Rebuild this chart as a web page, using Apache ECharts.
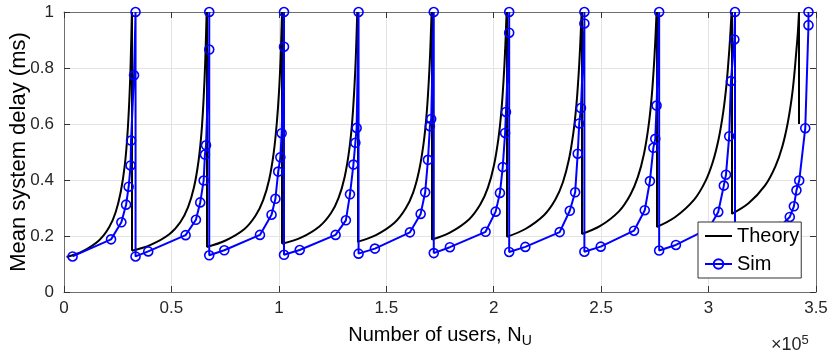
<!DOCTYPE html>
<html>
<head>
<meta charset="utf-8">
<script src="https://cdn.jsdelivr.net/npm/echarts@6/dist/echarts.min.js"></script>
<style>
  html, body { margin: 0; padding: 0; background: #fff; }
  #chart { width: 830px; height: 361px; }
</style>
</head>
<body>
<div id="chart"></div>
<script>
// x values are in units of 1e5 users, delay in ms
const theoryN = [
  0.012, 0.088, 0.164, 0.210, 0.240, 0.264, 0.283, 0.295, 0.304, 0.310, 0.316,
  0.316, 0.403, 0.490, 0.542, 0.577, 0.605, 0.626, 0.640, 0.650, 0.657, 0.664,
  0.664, 0.752, 0.840, 0.892, 0.927, 0.955, 0.976, 0.990, 1.001, 1.008, 1.015,
  1.015, 1.103, 1.190, 1.243, 1.278, 1.306, 1.327, 1.341, 1.351, 1.358, 1.365,
  1.365, 1.452, 1.538, 1.590, 1.625, 1.652, 1.673, 1.687, 1.697, 1.704, 1.711,
  1.711, 1.798, 1.886, 1.938, 1.973, 2.001, 2.022, 2.036, 2.046, 2.053, 2.060,
  2.060, 2.147, 2.235, 2.287, 2.322, 2.350, 2.371, 2.385, 2.395, 2.402, 2.409,
  2.409, 2.496, 2.584, 2.636, 2.671, 2.699, 2.720, 2.734, 2.744, 2.751, 2.758,
  2.758, 2.845, 2.933, 2.985, 3.020, 3.048, 3.069, 3.083, 3.093, 3.100, 3.107,
  3.107, 3.186, 3.264, 3.311, 3.343, 3.368, 3.387, 3.399, 3.408, 3.415, 3.421,
  3.421
];
const theoryDelay = [
  0.125, 0.146, 0.185, 0.231, 0.284, 0.357, 0.453, 0.559, 0.685, 0.811, 1,
  0.147, 0.168, 0.206, 0.250, 0.302, 0.374, 0.467, 0.570, 0.693, 0.816, 1,
  0.161, 0.184, 0.225, 0.273, 0.328, 0.402, 0.497, 0.600, 0.719, 0.834, 1,
  0.172, 0.194, 0.235, 0.282, 0.336, 0.410, 0.504, 0.605, 0.722, 0.836, 1,
  0.179, 0.203, 0.247, 0.298, 0.355, 0.431, 0.527, 0.628, 0.742, 0.850, 1,
  0.187, 0.213, 0.260, 0.313, 0.373, 0.452, 0.549, 0.649, 0.759, 0.861, 1,
  0.197, 0.225, 0.275, 0.330, 0.392, 0.473, 0.570, 0.669, 0.775, 0.872, 1,
  0.207, 0.236, 0.289, 0.347, 0.411, 0.492, 0.589, 0.686, 0.789, 0.881, 1,
  0.232, 0.268, 0.330, 0.395, 0.465, 0.551, 0.647, 0.738, 0.829, 0.905, 1,
  0.279, 0.317, 0.382, 0.449, 0.519, 0.602, 0.693, 0.776, 0.856, 0.921, 1,
  0.600
];

const simN = [
  0.040, 0.219, 0.267, 0.289, 0.301, 0.310, 0.312, 0.326, 0.333, 0.333,
  0.392, 0.566, 0.614, 0.634, 0.650, 0.656, 0.661, 0.676, 0.676, 0.676,
  0.746, 0.912, 0.966, 0.984, 0.997, 1.007, 1.013, 1.024, 1.024, 1.024,
  1.097, 1.264, 1.312, 1.331, 1.347, 1.356, 1.362, 1.371, 1.371,
  1.447, 1.610, 1.660, 1.681, 1.694, 1.703, 1.709, 1.721, 1.721,
  1.796, 1.962, 2.009, 2.029, 2.042, 2.053, 2.057, 2.072, 2.072, 2.072,
  2.147, 2.307, 2.354, 2.379, 2.391, 2.398, 2.406, 2.422, 2.422, 2.422,
  2.498, 2.653, 2.703, 2.727, 2.743, 2.752, 2.758, 2.770, 2.770,
  2.848, 3.000, 3.045, 3.071, 3.081, 3.096, 3.104, 3.120, 3.123, 3.123,
  3.200, 3.330, 3.378, 3.397, 3.409, 3.422, 3.450, 3.465, 3.465
];
const simDelay = [
  0.127, 0.188, 0.249, 0.312, 0.376, 0.452, 0.541, 0.774, 1.000, 0.127,
  0.145, 0.203, 0.258, 0.320, 0.398, 0.491, 0.524, 0.866, 1.000, 0.131,
  0.149, 0.204, 0.276, 0.333, 0.430, 0.481, 0.567, 0.876, 1.000, 0.133,
  0.150, 0.204, 0.256, 0.349, 0.455, 0.533, 0.586, 1.000, 0.137,
  0.155, 0.213, 0.279, 0.356, 0.472, 0.592, 0.618, 1.000, 0.139,
  0.160, 0.215, 0.287, 0.354, 0.446, 0.568, 0.643, 0.926, 1.000, 0.143,
  0.161, 0.214, 0.290, 0.356, 0.494, 0.602, 0.657, 0.959, 1.000, 0.144,
  0.162, 0.219, 0.292, 0.396, 0.515, 0.547, 0.666, 1.000, 0.148,
  0.168, 0.226, 0.286, 0.380, 0.419, 0.556, 0.753, 0.902, 1.000, 0.150,
  0.170, 0.232, 0.268, 0.306, 0.363, 0.398, 0.585, 0.953, 1.000
];

const xTicks = { min: 0, max: 3.5, step: 0.5 };
const yTicks = { min: 0, max: 1, step: 0.2 };

const lineColor = '#6e6e6e';
const tickColor = '#333';
const labelColor = '#262626';
const font = 'Liberation Sans, Arial, sans-serif';

// split theory curve into its branches (a repeated x marks a vertical drop)
const branches = [];
const drops = [];
let cur = [];
theoryN.forEach((x, i) => {
  if (i > 0 && x === theoryN[i - 1]) {
    branches.push(cur);
    drops.push({ coords: [[theoryN[i - 1], theoryDelay[i - 1]], [x, theoryDelay[i]]] });
    cur = [];
  }
  cur.push([x, theoryDelay[i]]);
});
branches.push(cur);

const chart = echarts.init(document.getElementById('chart'));

function frameAxis(pos, t) {
  return {
    type: 'value', position: pos, min: t.min, max: t.max, interval: t.step,
    axisLine: { show: true, onZero: false, lineStyle: { color: lineColor, width: 1 } },
    axisTick: { show: true, inside: true, length: 6, lineStyle: { color: tickColor } },
    axisLabel: { show: false },
    splitLine: { show: false }
  };
}

const theorySeries = branches.filter(b => b.length > 1).map(b => ({
  name: 'Theory', type: 'line',
  data: b,
  smooth: 0.35,
  symbol: 'none',
  lineStyle: { color: '#000', width: 2 },
  itemStyle: { color: '#000' },
  emphasis: { disabled: true }
}));

chart.setOption({
  animation: false,
  backgroundColor: '#fff',
  textStyle: { fontFamily: font },
  grid: { left: 64, right: 14, top: 12, bottom: 69, outerBoundsMode: 'none', containLabel: false },
  legend: {
    orient: 'vertical',
    left: 698, top: 222,
    z: 10,
    backgroundColor: '#fff',
    borderColor: tickColor, borderWidth: 1,
    padding: [4, 2, 4, 6],
    itemWidth: 27, itemHeight: 12, itemGap: 8,
    textStyle: { fontSize: 20, color: '#000', fontFamily: font },
    data: [
      { name: 'Theory', icon: 'path://M0,0L27,0L27,2L0,2Z' },
      'Sim'
    ]
  },
  xAxis: [
    {
      type: 'value', position: 'bottom',
      min: xTicks.min, max: xTicks.max, interval: xTicks.step,
      name: 'Number of users, N{sub|U}',
      nameLocation: 'middle', nameGap: 30,
      nameMoveOverlap: false,
      nameTextStyle: {
        fontSize: 20, color: '#000', fontFamily: font,
        rich: { sub: { fontSize: 14, color: '#000', padding: [12, 0, 0, 0], fontFamily: font } }
      },
      axisLine: { show: true, onZero: false, lineStyle: { color: lineColor } },
      axisTick: { show: true, inside: true, length: 6, lineStyle: { color: tickColor } },
      axisLabel: { fontSize: 17, color: labelColor, margin: 8, fontFamily: font },
      splitLine: { show: true, lineStyle: { color: '#e3e3e3' } }
    },
    frameAxis('top', xTicks)
  ],
  yAxis: [
    {
      type: 'value', position: 'left',
      min: yTicks.min, max: yTicks.max, interval: yTicks.step,
      name: 'Mean system delay (ms)',
      nameLocation: 'middle', nameGap: 34,
      nameMoveOverlap: false,
      nameTextStyle: { fontSize: 22, color: '#000', fontFamily: font },
      axisLine: { show: true, onZero: false, lineStyle: { color: lineColor } },
      axisTick: { show: true, inside: true, length: 6, lineStyle: { color: tickColor } },
      axisLabel: { fontSize: 17, color: labelColor, margin: 10, fontFamily: font },
      splitLine: { show: true, lineStyle: { color: '#e3e3e3' } }
    },
    frameAxis('right', yTicks)
  ],
  graphic: [{
    type: 'text', left: 771, top: 334,
    style: {
      text: '×10{sup|5}',
      fontSize: 18, fill: labelColor, fontFamily: font,
      rich: { sup: { fontSize: 13, fill: labelColor, padding: [0, 0, 10, 0], fontFamily: font } }
    }
  }],
  series: theorySeries.concat([
    {
      name: 'Theory', type: 'lines',
      coordinateSystem: 'cartesian2d',
      data: drops,
      lineStyle: { color: '#000', width: 2, opacity: 1 },
      emphasis: { disabled: true }
    },
    {
      name: 'Sim', type: 'line',
      data: simN.map((x, i) => [x, simDelay[i]]),
      symbol: 'circle', symbolSize: 9,
      lineStyle: { color: '#0000ff', width: 2 },
      itemStyle: { color: 'rgba(255,255,255,0)', borderColor: '#0000ff', borderWidth: 1.6 },
      emphasis: { disabled: true }
    }
  ])
});
</script>
</body>
</html>
